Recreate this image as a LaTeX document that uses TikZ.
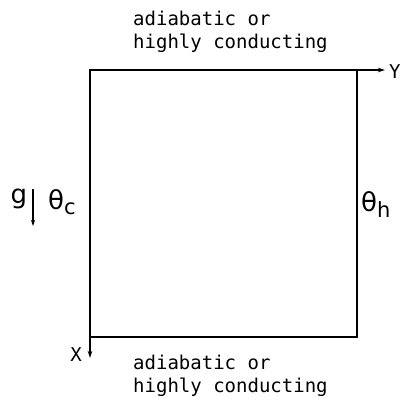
\documentclass[tikz,border=0pt]{standalone}
\usepackage{fontspec}
\setmainfont{DejaVu Sans Mono}
\newfontfamily\symf{DejaVu Sans}
\usetikzlibrary{arrows.meta}
\begin{document}
\begin{tikzpicture}[x=1pt,y=-1pt,
  lbl/.style={font=\fontsize{19}{23}\selectfont, inner sep=0pt, align=left},
  sym/.style={inner sep=0pt, font=\symf\fontsize{26}{28}\selectfont},
  ax/.style={line width=1.1pt, -{Stealth[length=7pt,width=4.5pt]}},
  wall/.style={line width=1.1pt}]
\useasboundingbox (0,0) rectangle (400,412);
\coordinate (tl) at (90,70);
\coordinate (tr) at (357,70);
\coordinate (br) at (357,337);
\coordinate (bl) at (90,337);
\coordinate (yend) at (385,70);
\coordinate (xend) at (90,358);
\draw[wall] (tl) -- (tr) -- (br) -- (bl) -- cycle;
\draw[ax] (tr) -- (yend);
\draw[ax] (bl) -- (xend);
\node[lbl, anchor=west] (Y) at (389,72) {Y};
\node[lbl, anchor=center] (X) at (76,355) {X};
\node[lbl, anchor=north west] (top) at (133,11) {adiabatic or\\highly conducting};
\node[lbl, anchor=north west] (bot) at (133,355) {adiabatic or\\highly conducting};
\node[sym] (g) at (19,199) {g};
\coordinate (gs) at (33,189);
\coordinate (ge) at (33,226);
\draw[line width=1.1pt, -{Stealth[length=6pt,width=4pt]}] (gs) -- (ge);
\node[sym, anchor=west] (tc) at (48,202) {θ\raisebox{-5pt}{\fontsize{21}{22}\selectfont c}};
\node[sym, anchor=west] (th) at (361,205) {θ\raisebox{-6pt}{\fontsize{21}{22}\selectfont h}};
\end{tikzpicture}
\end{document}
